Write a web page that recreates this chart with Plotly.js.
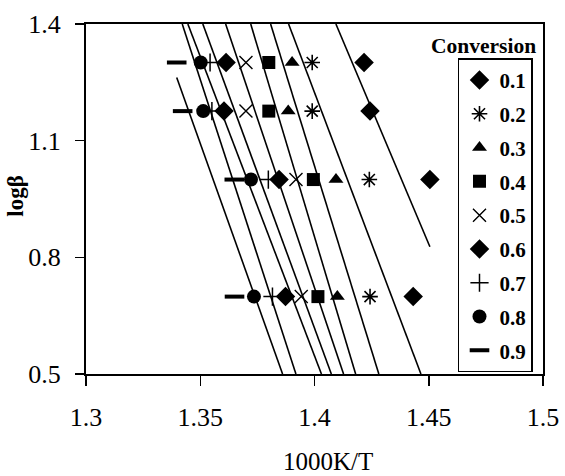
<!DOCTYPE html>
<html>
<head>
<meta charset="utf-8">
<script src="https://cdn.plot.ly/plotly-3.0.1.min.js"></script>
<style>html,body{margin:0;padding:0;background:#fff;}#chart{width:565px;height:476px;}</style>
</head>
<body>
<div id="chart"></div>
<script>
// log(heating rate) for beta = 5, 10, 15, 20 K/min
const logBeta = [0.699, 1.0, 1.176, 1.301];
const conversions = ['0.1','0.2','0.3','0.4','0.5','0.6','0.7','0.8','0.9'];
// 1000K/T at each heating rate (order matches logBeta)
const c01 = [1.4432, 1.4505, 1.4243, 1.4217];
const c02 = [1.4243, 1.4240, 1.3990, 1.3990];
const c03 = [1.4100, 1.4094, 1.3885, 1.3902];
const c04 = [1.4015, 1.3995, 1.3800, 1.3800];
const c05 = [1.3942, 1.3919, 1.3700, 1.3700];
const c06 = [1.3873, 1.3845, 1.3604, 1.3613];
const c07 = [1.3816, 1.3798, 1.3551, 1.3543];
const c08 = [1.3735, 1.3722, 1.3513, 1.3502];
const c09 = [1.3650, 1.3649, 1.3423, 1.3397];
const seriesX = [c01, c02, c03, c04, c05, c06, c07, c08, c09];
// trendline extension (Excel forecast): backward toward smaller x, forward toward larger x
const trendBackward = [true, true, true, true, true, true, true, true, false];
const trendForward  = [false, true, true, true, true, true, true, true, true];

const symbols = ['diamond','asterisk-open','triangle-up','square','x-thin-open','diamond','cross-thin-open','circle','line-ew-open'];
const sizes   = [15, 13, 13, 13, 13, 15, 13, 14, 14];
const lwidths = [0, 1.6, 0, 0, 1.4, 0, 1.5, 0, 4];

const yMin = 0.5, yMax = 1.4;
const traces = [];
seriesX.forEach((xs, i) => {
  // least squares y = a + b x
  const n = xs.length;
  const mx = xs.reduce((s,v)=>s+v,0)/n;
  const my = logBeta.reduce((s,v)=>s+v,0)/n;
  let sxy = 0, sxx = 0;
  for (let k=0;k<n;k++){ sxy += (xs[k]-mx)*(logBeta[k]-my); sxx += (xs[k]-mx)*(xs[k]-mx); }
  const b = sxy/sxx, a = my - b*mx;
  const xAtTop = (yMax - a)/b, xAtBot = (yMin - a)/b;
  const x0 = trendBackward[i] ? Math.min(xAtTop, xAtBot) : Math.min(...xs);
  const x1 = trendForward[i] ? Math.max(xAtTop, xAtBot) : Math.max(...xs);
  traces.push({
    x: [x0, x1], y: [a + b*x0, a + b*x1], mode: 'lines', type: 'scatter',
    line: {color: '#000', width: 1.6}, showlegend: false, hoverinfo: 'skip'
  });
});
seriesX.forEach((xs, i) => {
  traces.push({
    x: xs, y: logBeta, mode: 'markers', type: 'scatter', name: conversions[i],
    legendgroup: 'g'+i,
    marker: {symbol: symbols[i], size: sizes[i], color: '#000', line: {color: '#000', width: lwidths[i]}}
  });
});

const layout = {
  width: 565, height: 476,
  margin: {l: 86, r: 22, t: 24, b: 102},
  paper_bgcolor: '#fff', plot_bgcolor: '#fff',
  font: {family: '"Liberation Serif", "Times New Roman", serif', color: '#000'},
  showlegend: true,
  legend: {
    x: 0.814, y: 0.902, xanchor: 'left', yanchor: 'top',
    bgcolor: '#fff', bordercolor: '#000', borderwidth: 1.5,
    font: {size: 21, family: '"Liberation Serif", serif', weight: 'bold', color: '#000'},
    tracegroupgap: 3.5, itemwidth: 30
  },
  xaxis: {
    range: [1.3, 1.5], dtick: 0.05, tick0: 1.3,
    showline: true, linecolor: '#000', linewidth: 2, mirror: true,
    ticks: 'outside', ticklen: 10, tickwidth: 1.5, tickcolor: '#000',
    showgrid: false, zeroline: false,
    tickfont: {size: 26, family: '"Liberation Serif", serif', color: '#000'},
    ticklabelstandoff: 9
  },
  yaxis: {
    range: [0.5, 1.4], dtick: 0.3, tick0: 0.5,
    showline: true, linecolor: '#000', linewidth: 2, mirror: true,
    ticks: 'outside', ticklen: 9, tickwidth: 1.5, tickcolor: '#000',
    showgrid: false, zeroline: false,
    tickfont: {size: 26, family: '"Liberation Serif", serif', color: '#000'},
    ticklabelstandoff: 9
  },
  annotations: [
    {text: 'Conversion', xref: 'paper', yref: 'paper', x: 0.989, y: 1.0, xanchor: 'right', yanchor: 'top',
     yshift: -8, showarrow: false, font: {size: 21.5, weight: 'bold', family: '"Liberation Serif", serif', color: '#000'}},
    {text: '1000K/T', xref: 'paper', yref: 'paper', x: 0.53, y: -0.25, xanchor: 'center', yanchor: 'middle',
     showarrow: false, font: {size: 25, family: '"Liberation Serif", serif', color: '#000'}},
    {text: 'logβ', xref: 'paper', yref: 'paper', x: -0.155, y: 0.51, xanchor: 'center', yanchor: 'middle', textangle: -90,
     showarrow: false, font: {size: 23, weight: 'bold', family: '"Liberation Serif", serif', color: '#000'}}
  ]
};

Plotly.newPlot('chart', traces, layout, {staticPlot: true, displayModeBar: false});
</script>
</body>
</html>
